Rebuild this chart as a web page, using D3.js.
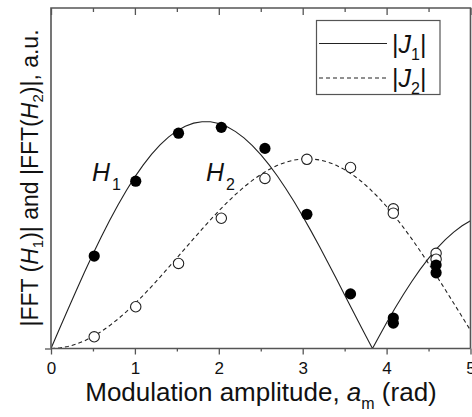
<!DOCTYPE html>
<html><head><meta charset="utf-8">
<script src="https://cdn.jsdelivr.net/npm/d3@7"></script>
<style>
html,body{margin:0;padding:0;background:#fff;}
svg{display:block;font-family:"Liberation Sans",Arial,sans-serif;}
</style></head>
<body>
<svg id="c" width="472" height="417"></svg>
<script>
const curveX = [0,0.1,0.2,0.3,0.4,0.5,0.6,0.7,0.8,0.9,1.0,1.1,1.2,1.3,1.4,1.5,1.6,1.7,1.8,1.9,2.0,2.1,2.2,2.3,2.4,2.5,2.6,2.7,2.8,2.9,3.0,3.1,3.2,3.3,3.4,3.5,3.6,3.7,3.8,3.8317,3.9,4.0,4.1,4.2,4.3,4.4,4.5,4.6,4.7,4.8,4.9,5.0];
const j1Abs = [0,0.0499,0.0995,0.1483,0.1960,0.2423,0.2867,0.3290,0.3688,0.4059,0.4401,0.4709,0.4983,0.5220,0.5419,0.5579,0.5699,0.5778,0.5815,0.5812,0.5767,0.5683,0.5560,0.5399,0.5202,0.4971,0.4708,0.4416,0.4097,0.3754,0.3391,0.3009,0.2613,0.2207,0.1792,0.1374,0.0955,0.0538,0.0128,0,0.0272,0.0660,0.1033,0.1386,0.1719,0.2028,0.2311,0.2566,0.2791,0.2985,0.3147,0.3276];
const j2Abs = [0,0.00125,0.0050,0.0112,0.0197,0.0306,0.0437,0.0588,0.0758,0.0946,0.1149,0.1366,0.1593,0.1830,0.2074,0.2321,0.2570,0.2817,0.3061,0.3299,0.3528,0.3746,0.3951,0.4139,0.4310,0.4461,0.4590,0.4696,0.4777,0.4832,0.4861,0.4862,0.4835,0.4780,0.4697,0.4586,0.4448,0.4283,0.4093,0.4020,0.3879,0.3641,0.3383,0.3105,0.2811,0.2501,0.2178,0.1846,0.1506,0.1161,0.0813,0.0466];

// Measured points
const h1X = [0.515,1.01,1.52,2.03,2.55,3.05,3.57,4.08,4.08,4.59,4.59];
const h1Y = [0.237,0.429,0.552,0.567,0.513,0.344,0.140,0.078,0.065,0.214,0.194];
const h2X = [0.515,1.01,1.52,2.03,2.55,3.05,3.57,4.08,4.08,4.59,4.59];
const h2Y = [0.030,0.107,0.218,0.334,0.436,0.485,0.464,0.358,0.347,0.244,0.229];

const xMajor = [0,1,2,3,4,5];
const xMinor = [0.5,1.5,2.5,3.5,4.5];

const svg = d3.select("#c");
const L = 51, R = 470.5, T = 8, B = 348.5;
const x = d3.scaleLinear().domain([0,5]).range([L,R]);
const y = d3.scaleLinear().domain([0,0.873]).range([B,T]);
const axCol = "#555";

svg.append("defs").append("clipPath").attr("id","clip")
  .append("rect").attr("x",L).attr("y",T).attr("width",R-L).attr("height",B-T);

// Curves
const line = d3.line().x(d=>x(d[0])).y(d=>y(d[1]));
const g = svg.append("g").attr("clip-path","url(#clip)");
g.append("path").datum(curveX.map((v,i)=>[v,j1Abs[i]]))
  .attr("d",line).attr("fill","none").attr("stroke","#222").attr("stroke-width",1.1);
g.append("path").datum(curveX.map((v,i)=>[v,j2Abs[i]]))
  .attr("d",line).attr("fill","none").attr("stroke","#222").attr("stroke-width",1.1)
  .attr("stroke-dasharray","4,3");

// Points
g.selectAll("circle.h2").data(h2X.map((v,i)=>[v,h2Y[i]])).enter().append("circle")
  .attr("cx",d=>x(d[0])).attr("cy",d=>y(d[1])).attr("r",5.2)
  .attr("fill","#fff").attr("stroke","#222").attr("stroke-width",1.1);
g.selectAll("circle.h1").data(h1X.map((v,i)=>[v,h1Y[i]])).enter().append("circle")
  .attr("cx",d=>x(d[0])).attr("cy",d=>y(d[1])).attr("r",5.6)
  .attr("fill","#000");

// Axes
function styleAxis(sel){
  sel.select(".domain").remove();
  sel.selectAll(".tick line").attr("stroke",axCol).attr("stroke-width",1.3);
  sel.selectAll(".tick text").attr("fill","#111").attr("font-size",17)
    .attr("font-family","'Liberation Sans',Arial,sans-serif");
}
const bMaj = svg.append("g").attr("transform",`translate(0,${B})`)
  .call(d3.axisBottom(x).tickValues(xMajor).tickSize(6).tickPadding(7).tickFormat(d3.format("d")));
styleAxis(bMaj);
const bMin = svg.append("g").attr("transform",`translate(0,${B})`)
  .call(d3.axisBottom(x).tickValues(xMinor).tickSize(3).tickFormat(""));
styleAxis(bMin);
const tMaj = svg.append("g").attr("transform",`translate(0,${T})`)
  .call(d3.axisTop(x).tickValues(xMajor).tickSize(-7).tickFormat(""));
styleAxis(tMaj);
const tMin = svg.append("g").attr("transform",`translate(0,${T})`)
  .call(d3.axisTop(x).tickValues(xMinor).tickSize(-4).tickFormat(""));
styleAxis(tMin);
const lAx = svg.append("g").attr("transform",`translate(${L},0)`)
  .call(d3.axisLeft(y).tickValues([0]).tickSize(6).tickFormat(""));
styleAxis(lAx);

// Frame
svg.append("path")
  .attr("d",`M${L},${B}H${R}M${L},${B}V${T}H${R}V${B}`)
  .attr("fill","none").attr("stroke",axCol).attr("stroke-width",1.6);

// Legend
const lg = svg.append("g");
lg.append("rect").attr("x",316.5).attr("y",20.5).attr("width",123.5).attr("height",74)
  .attr("fill","#fff").attr("stroke",axCol).attr("stroke-width",1.2);
lg.append("line").attr("x1",319).attr("x2",387).attr("y1",43.5).attr("y2",43.5)
  .attr("stroke","#222").attr("stroke-width",1.1);
lg.append("line").attr("x1",319).attr("x2",387).attr("y1",78).attr("y2",78)
  .attr("stroke","#222").attr("stroke-width",1.1).attr("stroke-dasharray","4,3");
function jLabel(yy, sub){
  const t = lg.append("text").attr("x",392).attr("y",yy).attr("font-size",25).attr("fill","#111");
  t.append("tspan").text("|");
  t.append("tspan").attr("font-style","italic").text("J");
  t.append("tspan").attr("font-size",16).attr("dy",7).text(sub);
  t.append("tspan").attr("dy",-7).text("|");
}
jLabel(53,"1");
jLabel(87,"2");

// H labels
function hLabel(xx, yy, sub){
  const t = svg.append("text").attr("x",xx).attr("y",yy).attr("font-size",25).attr("fill","#111");
  t.append("tspan").attr("font-style","italic").text("H");
  t.append("tspan").attr("font-size",16).attr("dy",9).attr("dx",2).text(sub);
}
hLabel(92,181,"1");
hLabel(206,181,"2");

// Axis titles
const xt = svg.append("text").attr("x",261).attr("y",401).attr("text-anchor","middle")
  .attr("font-size",26).attr("fill","#111");
xt.append("tspan").text("Modulation amplitude, ");
xt.append("tspan").attr("font-style","italic").text("a");
xt.append("tspan").attr("font-size",16).attr("dy",8).text("m");
xt.append("tspan").attr("dy",-8).text(" (rad)");

const yt = svg.append("text").attr("transform",`translate(38,178) rotate(-90)`)
  .attr("text-anchor","middle").attr("font-size",23).attr("fill","#111");
yt.append("tspan").text("|FFT (");
yt.append("tspan").attr("font-style","italic").text("H");
yt.append("tspan").attr("font-size",15).attr("dy",5).text("1");
yt.append("tspan").attr("dy",-5).text(")| and |FFT(");
yt.append("tspan").attr("font-style","italic").text("H");
yt.append("tspan").attr("font-size",15).attr("dy",5).text("2");
yt.append("tspan").attr("dy",-5).text(")|, a.u.");
</script>
</body></html>
